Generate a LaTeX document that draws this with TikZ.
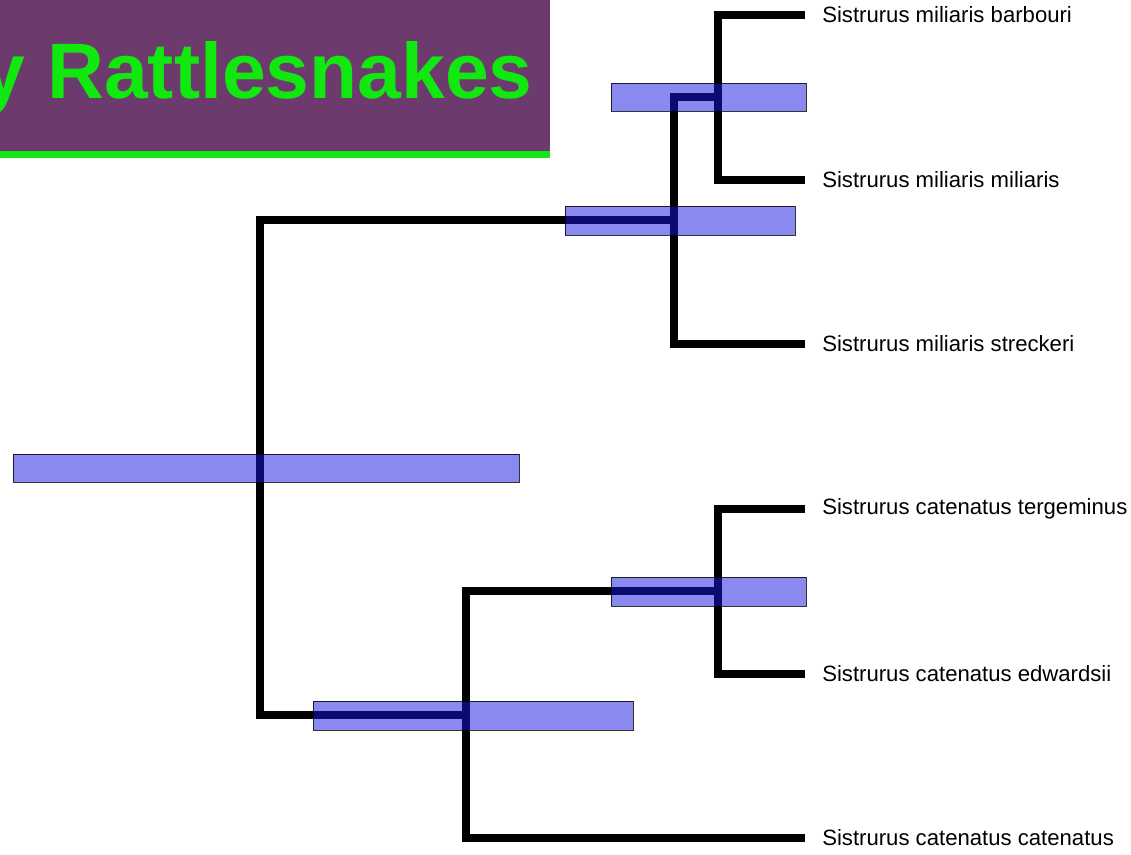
\documentclass[tikz,border=0pt]{standalone}
\usepackage{fontspec}
\setmainfont{Liberation Sans}
\usepackage{tikz}
\usetikzlibrary{positioning,calc}
\definecolor{ink}      {HTML}{000000}
\definecolor{plum}     {HTML}{6D3A6D}
\definecolor{lime}     {HTML}{10E810}
\definecolor{hpdblue}  {HTML}{1414E0}
\tikzset{
  % --- nodes
  leaf/.style   = {anchor=west, inner xsep=12.75pt, inner ysep=2pt,
                   font=\fontsize{16.6}{18}\selectfont, text=ink},
  title/.style  = {anchor=base east, inner sep=0pt, text=lime,
                   font=\fontsize{59}{60}\selectfont\bfseries},
  % --- shapes
  titlebg/.style = {fill=plum},
  titlerule/.style = {draw=lime, line width=5.25pt},
  hpd/.style    = {fill=hpdblue, fill opacity=0.5, draw=ink, draw opacity=0.8,
                   line width=0.75pt},
  % --- edges
  branch/.style = {draw=ink, line width=6pt, miter limit=10},
}
\begin{document}
\begin{tikzpicture}[x=0.75pt, y=-0.75pt]
  \useasboundingbox (0,0) rectangle (1131,854);

  % title banner
  \fill[titlebg] (0,0) rectangle (550,151);
  \draw[titlerule] (0,154.5) -- (550,154.5);
  \begin{scope}
    \clip (0,0) rectangle (550,151);
    \node[title] (ttl) at (533,98) {y Rattlesnakes};
  \end{scope}

  % internal nodes
  \coordinate (nA)   at (718,97);
  \coordinate (nB)   at (674,220);
  \coordinate (nC)   at (718,591);
  \coordinate (nD)   at (466,715);
  \coordinate (root) at (260,467);

  % tips
  \node[leaf] (barb) at (805,15)  {Sistrurus miliaris barbouri};
  \node[leaf] (mili) at (805,180) {Sistrurus miliaris miliaris};
  \node[leaf] (stre) at (805,344) {Sistrurus miliaris streckeri};
  \node[leaf] (terg) at (805,509) {Sistrurus catenatus tergeminus};
  \node[leaf] (edwa) at (805,674) {Sistrurus catenatus edwardsii};
  \node[leaf] (cate) at (805,838) {Sistrurus catenatus catenatus};

  % branches
  \draw[branch] (barb.west) -| (nA) |- (mili.west);
  \draw[branch] (nA) -| (nB) |- (stre.west);
  \draw[branch] (terg.west) -| (nC) |- (edwa.west);
  \draw[branch] (nC) -| (nD) |- (cate.west);
  \draw[branch] (nB) -| (root) |- (nD);

  % node age bars
  \draw[hpd] (611,83)  rectangle (806,111);
  \draw[hpd] (565,206) rectangle (795,235);
  \draw[hpd] (13,454)  rectangle (519,482);
  \draw[hpd] (611,577) rectangle (806,606);
  \draw[hpd] (313,701) rectangle (633,730);
\end{tikzpicture}
\end{document}
